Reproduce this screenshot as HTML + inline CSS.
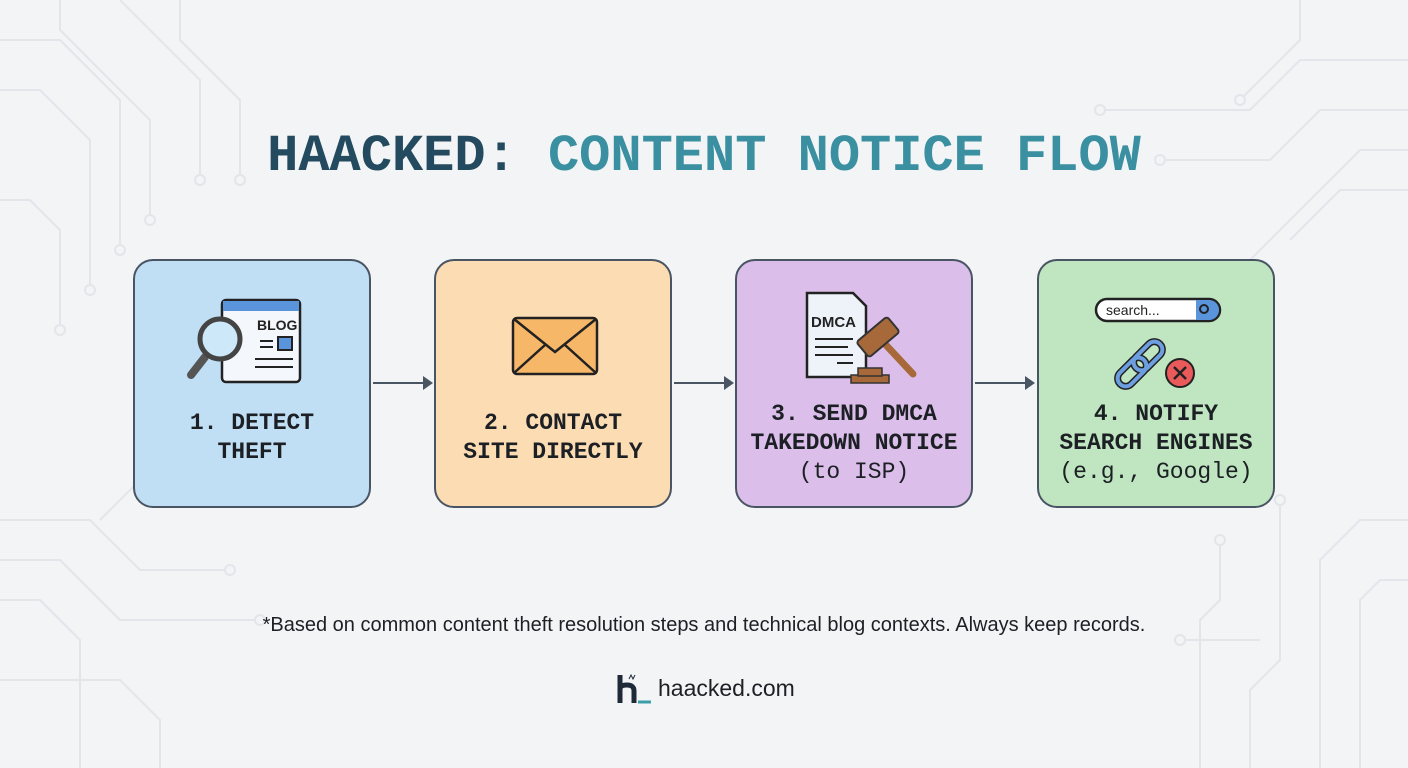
<!DOCTYPE html>
<html><head><meta charset="utf-8"><style>
body{margin:0;width:1408px;height:768px;background:#f2f4f6;position:relative;overflow:hidden;font-family:"Liberation Sans",sans-serif}
.t{position:absolute;top:127px;left:0;width:1408px;text-align:center;font:bold 52px "Liberation Mono",monospace;color:#3a8fa0;letter-spacing:0}
.box{position:absolute;top:259px;width:234px;height:245px;border:2px solid #4a5563;border-radius:20px}
.lb{position:absolute;left:0;width:100%;text-align:center;font:bold 23px/29px "Liberation Mono",monospace;color:#1c1f24}
.lb span{font-weight:normal}
.ar{position:absolute;top:382px;height:2px;background:#4a5563;width:52px}
.ar:after{content:"";position:absolute;right:-8px;top:-6px;border-left:10px solid #4a5563;border-top:7px solid transparent;border-bottom:7px solid transparent}
</style></head><body>
<svg style="position:absolute;left:0;top:0" width="1408" height="768" fill="none" stroke="#e2e6ea" stroke-width="2">
<path d="M0 40 H60 L120 100 V250"/><path d="M0 90 H40 L90 140 V290"/><path d="M60 0 V30 L150 120 V220"/><path d="M120 0 L200 80 V180"/><path d="M180 0 V40 L240 100 V180"/>
<path d="M0 200 H30 L60 230 V330"/><path d="M1408 60 H1300 L1250 110 H1100"/><path d="M1408 110 H1320 L1270 160 H1160"/><path d="M1300 0 V40 L1240 100"/><path d="M1408 190 H1340 L1290 240"/><path d="M1408 150 H1360 L1200 310"/>
<path d="M0 520 H90 L140 570 H230"/><path d="M0 560 H60 L120 620 H260"/><path d="M0 600 H40 L80 640 V768"/><path d="M0 680 H120 L160 720 V768"/><path d="M100 520 L250 370"/>
<path d="M1408 520 H1360 L1320 560 V768"/><path d="M1408 580 H1380 L1360 600 V768"/><path d="M1280 500 V660 L1250 690 V768"/><path d="M1220 540 V600 L1200 620 V768"/><path d="M1180 640 H1260"/>
<g fill="#f2f4f6"><circle cx="120" cy="250" r="5"/><circle cx="90" cy="290" r="5"/><circle cx="150" cy="220" r="5"/><circle cx="200" cy="180" r="5"/><circle cx="240" cy="180" r="5"/><circle cx="60" cy="330" r="5"/><circle cx="1100" cy="110" r="5"/><circle cx="1160" cy="160" r="5"/><circle cx="1240" cy="100" r="5"/><circle cx="1200" cy="310" r="5"/><circle cx="230" cy="570" r="5"/><circle cx="260" cy="620" r="5"/><circle cx="1280" cy="500" r="5"/><circle cx="1220" cy="540" r="5"/><circle cx="1180" cy="640" r="5"/></g>
</svg>
<div class="t"><span style="color:#234a5e">HAACKED:</span> CONTENT NOTICE FLOW</div>

<div class="box" style="left:133px;background:#c0dff5">
<svg style="position:absolute;left:50px;top:36px" width="120" height="90">
<rect x="37" y="3" width="78" height="82" rx="4" fill="#f4f7fb" stroke="#222" stroke-width="2.5"/><rect x="38" y="4" width="76" height="10" fill="#5a95dc"/>
<text x="72" y="33" font-family="Liberation Sans" font-weight="bold" font-size="14" fill="#222">BLOG</text>
<rect x="93" y="40" width="14" height="13" fill="#5a95dc" stroke="#222" stroke-width="2"/>
<path d="M75 44H88M75 50H88M70 62H108M70 70H108" stroke="#222" stroke-width="2"/>
<line x1="20" y1="60" x2="6" y2="78" stroke="#555" stroke-width="8" stroke-linecap="round"/>
<circle cx="35" cy="42" r="20" fill="#cde8f8" stroke="#444" stroke-width="5"/>
</svg>
<div class="lb" style="top:148px">1. DETECT<br>THEFT</div></div>
<div class="ar" style="left:373px"></div>

<div class="box" style="left:434px;background:#fcdcb2">
<svg style="position:absolute;left:74px;top:54px" width="90" height="62"><rect x="3" y="3" width="84" height="56" rx="4" fill="#f7b768" stroke="#222" stroke-width="2.5"/><path d="M4 4 L45 37 L86 4 M4 58 L35 30 M86 58 L55 30" stroke="#222" stroke-width="2.5" fill="none"/></svg>
<div class="lb" style="top:148px">2. CONTACT<br>SITE DIRECTLY</div></div>
<div class="ar" style="left:674px"></div>

<div class="box" style="left:735px;background:#dbbfea">
<svg style="position:absolute;left:66px;top:28px" width="125" height="100">
<path d="M4 4H50L63 17V88H4Z" fill="#eef3fa" stroke="#222" stroke-width="2.5"/>
<text x="8" y="38" font-family="Liberation Sans" font-weight="bold" font-size="15" fill="#222">DMCA</text>
<path d="M12 50H50M12 58H45M12 66H50M34 74H50" stroke="#222" stroke-width="2"/>
<rect x="48" y="86" width="38" height="8" fill="#a7693a" stroke="#333" stroke-width="1.5"/><rect x="55" y="79" width="24" height="8" fill="#a7693a" stroke="#333" stroke-width="1.5"/>
<line x1="82" y1="55" x2="110" y2="85" stroke="#a7693a" stroke-width="7" stroke-linecap="round"/>
<g transform="rotate(-40 75 48)"><rect x="55" y="38" width="40" height="20" rx="3" fill="#a7693a" stroke="#333" stroke-width="2"/></g>
</svg>
<div class="lb" style="top:139px">3. SEND DMCA<br>TAKEDOWN NOTICE<br><span>(to ISP)</span></div></div>
<div class="ar" style="left:975px"></div>

<div class="box" style="left:1037px;background:#bfe6c1">
<svg style="position:absolute;left:55px;top:36px" width="130" height="95">
<rect x="2" y="2" width="124" height="22" rx="11" fill="#fff" stroke="#222" stroke-width="2.5"/>
<path d="M102 3H115a10 10 0 0 1 0 20H102Z" fill="#5a95dc"/>
<text x="12" y="18" font-family="Liberation Sans" font-size="14" fill="#222">search...</text>
<circle cx="110" cy="12" r="4" stroke="#222" stroke-width="2" fill="none"/>
<g fill="none" stroke="#222" stroke-width="7"><rect x="46" y="42" width="16" height="34" rx="8" transform="rotate(45 54 59)"/><rect x="30" y="58" width="16" height="34" rx="8" transform="rotate(45 38 75)"/></g>
<g fill="none" stroke="#6d9ee0" stroke-width="4"><rect x="46" y="42" width="16" height="34" rx="8" transform="rotate(45 54 59)"/><rect x="30" y="58" width="16" height="34" rx="8" transform="rotate(45 38 75)"/></g>
<circle cx="86" cy="76" r="14" fill="#ea5a5a" stroke="#222" stroke-width="2"/><path d="M80 70L92 82M92 70L80 82" stroke="#222" stroke-width="2.5"/>
</svg>
<div class="lb" style="top:139px">4. NOTIFY<br>SEARCH ENGINES<br><span>(e.g., Google)</span></div></div>

<div style="position:absolute;top:614px;left:0;width:1408px;text-align:center;font-size:20px;color:#1c1f24">*Based on common content theft resolution steps and technical blog contexts. Always keep records.</div>
<svg style="position:absolute;left:617px;top:673px" width="36" height="32"><path d="M3 2V30M3 16Q3 12 10 12Q17 12 17 18V30" stroke="#1f2a38" stroke-width="5" fill="none"/><path d="M21 29H34" stroke="#3a9fa8" stroke-width="3"/><path d="M12 6L14 2L16 6L18 2" stroke="#1f2a38" stroke-width="1" fill="none"/></svg>
<div style="position:absolute;top:675px;left:658px;font-size:23px;color:#1c1f24">haacked.com</div>
</body></html>
